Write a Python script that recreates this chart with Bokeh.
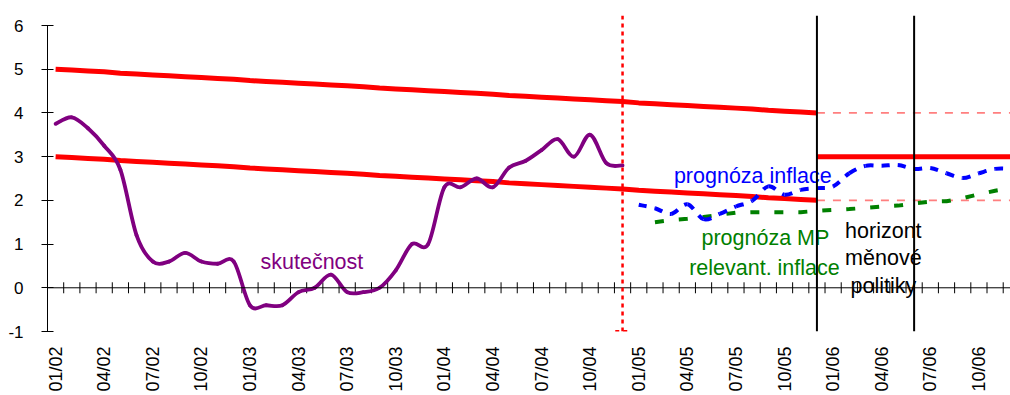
import math

from bokeh.core.properties import value
from bokeh.embed import file_html
from bokeh.models import FixedTicker, LinearAxis, Range1d, Span
from bokeh.plotting import figure
from bokeh.resources import INLINE

# ---------------------------------------------------------------------------
# Data (month index: 0 = 01/02, 1 = 02/02, ... 59 = 12/06)
# ---------------------------------------------------------------------------
tick_months = [0, 3, 6, 9, 12, 15, 18, 21, 24, 27, 30, 33, 36, 39, 42, 45, 48, 51, 54, 57]
tick_labels = ["01/02", "04/02", "07/02", "10/02", "01/03", "04/03", "07/03", "10/03",
               "01/04", "04/04", "07/04", "10/04", "01/05", "04/05", "07/05", "10/05",
               "01/06", "04/06", "07/06", "10/06"]
y_ticks = [-1, 0, 1, 2, 3, 4, 5, 6]
y_tick_labels = ["-1", "0", "1", "2", "3", "4", "5", "6"]

# inflation target band 01/02 - 12/05
band_upper = [5.00, 4.98, 4.96, 4.94, 4.91, 4.89, 4.87, 4.85, 4.83, 4.81, 4.79, 4.77,
              4.74, 4.72, 4.70, 4.68, 4.66, 4.64, 4.62, 4.60, 4.57, 4.55, 4.53, 4.51,
              4.49, 4.47, 4.45, 4.43, 4.40, 4.38, 4.36, 4.34, 4.32, 4.30, 4.28, 4.26,
              4.23, 4.21, 4.19, 4.17, 4.15, 4.13, 4.11, 4.09, 4.06, 4.04, 4.02, 4.00]
band_lower = [3.00, 2.98, 2.96, 2.94, 2.91, 2.89, 2.87, 2.85, 2.83, 2.81, 2.79, 2.77,
              2.74, 2.72, 2.70, 2.68, 2.66, 2.64, 2.62, 2.60, 2.57, 2.55, 2.53, 2.51,
              2.49, 2.47, 2.45, 2.43, 2.40, 2.38, 2.36, 2.34, 2.32, 2.30, 2.28, 2.26,
              2.23, 2.21, 2.19, 2.17, 2.15, 2.13, 2.11, 2.09, 2.06, 2.04, 2.02, 2.00]
band_start = 0

# target from 01/06 on (drawn from 12/05)
target_start = 47
target_end = 59
target_level = 3.0
tolerance_upper = 4.0
tolerance_lower = 2.0

# actual CPI inflation 01/02 - 12/04
actual = [3.75, 3.9, 3.65, 3.25, 2.7, 1.2, 0.6, 0.6, 0.8, 0.6, 0.55, 0.6,
          -0.4, -0.4, -0.4, -0.1, 0.0, 0.3, -0.1, -0.1, 0.0, 0.4, 1.0, 1.0,
          2.3, 2.3, 2.5, 2.3, 2.75, 2.9, 3.15, 3.4, 3.0, 3.5, 2.85, 2.8]
actual_start = 0

# CPI inflation forecast 01/05 - 12/06
forecast_cpi = [1.9, 1.82, 1.69, 1.91, 1.57, 1.69, 1.86, 1.99, 2.32, 2.13, 2.24, 2.28,
                2.32, 2.62, 2.79, 2.79, 2.81, 2.72, 2.74, 2.62, 2.51, 2.62, 2.72, 2.72]
forecast_cpi_start = 36

# forecast of inflation relevant for monetary policy 02/05 - 12/06
forecast_mp = [1.5, 1.55, 1.58, 1.62, 1.67, 1.72, 1.73, 1.73, 1.73, 1.73, 1.76, 1.78,
               1.8, 1.83, 1.86, 1.88, 1.93, 1.97, 1.98, 2.05, 2.14, 2.22, 2.28]
forecast_mp_start = 37

last_actual_month = 35      # 12/04
horizon_months = [47, 53]   # 12/05, 06/06

FONT = "Liberation Sans"


def months_from(start, values):
    return [start + i for i in range(len(values))]


def smooth_bezier(xs, ys):
    """Cubic Bezier pieces (Catmull-Rom style) through the given points."""
    n = len(xs)
    out = dict(x0=[], y0=[], x1=[], y1=[], cx0=[], cy0=[], cx1=[], cy1=[])
    for i in range(n - 1):
        a = i - 1 if i > 0 else i
        d = i + 2 if i + 2 < n else i + 1
        out["x0"].append(xs[i])
        out["y0"].append(ys[i])
        out["x1"].append(xs[i + 1])
        out["y1"].append(ys[i + 1])
        out["cx0"].append(xs[i] + (xs[i + 1] - xs[a]) / 6.0)
        out["cy0"].append(ys[i] + (ys[i + 1] - ys[a]) / 6.0)
        out["cx1"].append(xs[i + 1] - (xs[d] - xs[i]) / 6.0)
        out["cy1"].append(ys[i + 1] - (ys[d] - ys[i]) / 6.0)
    return out


# ---------------------------------------------------------------------------
# Figure
# ---------------------------------------------------------------------------
p = figure(width=1010, height=395,
           x_range=Range1d(-0.5, 58.95), y_range=Range1d(-1, 6.229),
           output_backend="svg", toolbar_location=None,
           x_axis_location=None, y_axis_location=None,
           min_border_left=47, min_border_right=0,
           min_border_top=15, min_border_bottom=64)
p.outline_line_color = None
p.background_fill_color = "white"
p.border_fill_color = "white"
for g in p.grid:
    g.visible = False

# vertical axis
yaxis = LinearAxis(ticker=FixedTicker(ticks=y_ticks), bounds=(-1, 6),
                   major_label_overrides={v: t for v, t in zip(y_ticks, y_tick_labels)},
                   major_tick_in=6, major_tick_out=6,
                   minor_tick_line_color=None,
                   axis_line_color="black", major_tick_line_color="black",
                   major_label_standoff=18,
                   major_label_text_font=FONT, major_label_text_font_size="17px",
                   major_label_text_color="black")
p.add_layout(yaxis, "left")

# month labels at the bottom
xlabels = LinearAxis(ticker=FixedTicker(ticks=tick_months),
                     major_label_overrides={m: t for m, t in zip(tick_months, tick_labels)},
                     major_label_orientation=math.pi / 2,
                     axis_line_color=None, major_tick_line_color=None,
                     minor_tick_line_color=None,
                     major_tick_in=0, major_tick_out=0,
                     major_label_standoff=15,
                     major_label_text_font=FONT, major_label_text_font_size="18px",
                     major_label_text_color="black")
p.add_layout(xlabels, "below")

# category axis line at zero with a tick at every month boundary
n_months = len(tick_months) * 3
p.add_layout(Span(location=0, dimension="width", line_color="black", line_width=1))
p.scatter(x=[m - 0.5 for m in range(1, n_months + 1)], y=[0] * n_months,
          marker="dash", angle=math.pi / 2, size=11,
          line_color="black", line_width=1)

# target band
band_x = months_from(band_start, band_upper)
p.line(band_x, band_upper, line_color="#ff0000", line_width=5, line_join="round")
p.line(band_x, band_lower, line_color="#ff0000", line_width=5, line_join="round")

# target with tolerance band
tgt_x = [target_start, target_end + 1]
p.line(tgt_x, [target_level, target_level], line_color="#ff0000", line_width=5)
p.line(tgt_x, [tolerance_upper, tolerance_upper], line_color="#ff7f7f",
       line_width=1.8, line_dash="8 8")
p.line(tgt_x, [tolerance_lower, tolerance_lower], line_color="#ff7f7f",
       line_width=1.8, line_dash="8 8")

# actual inflation
act = smooth_bezier(months_from(actual_start, actual), actual)
p.bezier(line_color="#800080", line_width=3.8, line_cap="round", **act)

# MP-relevant inflation forecast
p.line(months_from(forecast_mp_start, forecast_mp), forecast_mp,
       line_color="#008000", line_width=4, line_dash="9 15")

# inflation forecast
fc = smooth_bezier(months_from(forecast_cpi_start, forecast_cpi), forecast_cpi)
p.bezier(line_color="#0000ff", line_width=4, line_dash="8 8", **fc)

# end of actual data
p.add_layout(Span(location=last_actual_month, dimension="height",
                  line_color="#ff0000", line_width=2.5, line_dash="4 4"))
p.segment(x0=[last_actual_month - 0.45], x1=[last_actual_month + 0.5],
          y0=[-1], y1=[-1], line_color="#ff0000", line_width=3, line_dash="4 4")

# monetary policy horizon
for m in horizon_months:
    p.add_layout(Span(location=m, dimension="height",
                      line_color="black", line_width=2))


# labels
def label(x, y, text, color, align="left"):
    p.text(x=[x], y=[y], text=[text], text_color=color,
           text_font=value(FONT), text_font_size=value("21.5px"),
           text_align=align, text_baseline="alphabetic")


label(12.65, 0.60, "skutečnost", "#800080")
label(38.17, 2.55, "prognóza inflace", "#0000ff")
label(43.82, 1.13, "prognóza MP", "#008000", "center")
label(43.76, 0.46, "relevant. inflace", "#008000", "center")
label(51.1, 1.31, "horizont", "black", "center")
label(51.1, 0.67, "měnové", "black", "center")
label(51.1, 0.03, "politiky", "black", "center")

open("out.html", "w").write(file_html(p, INLINE))
